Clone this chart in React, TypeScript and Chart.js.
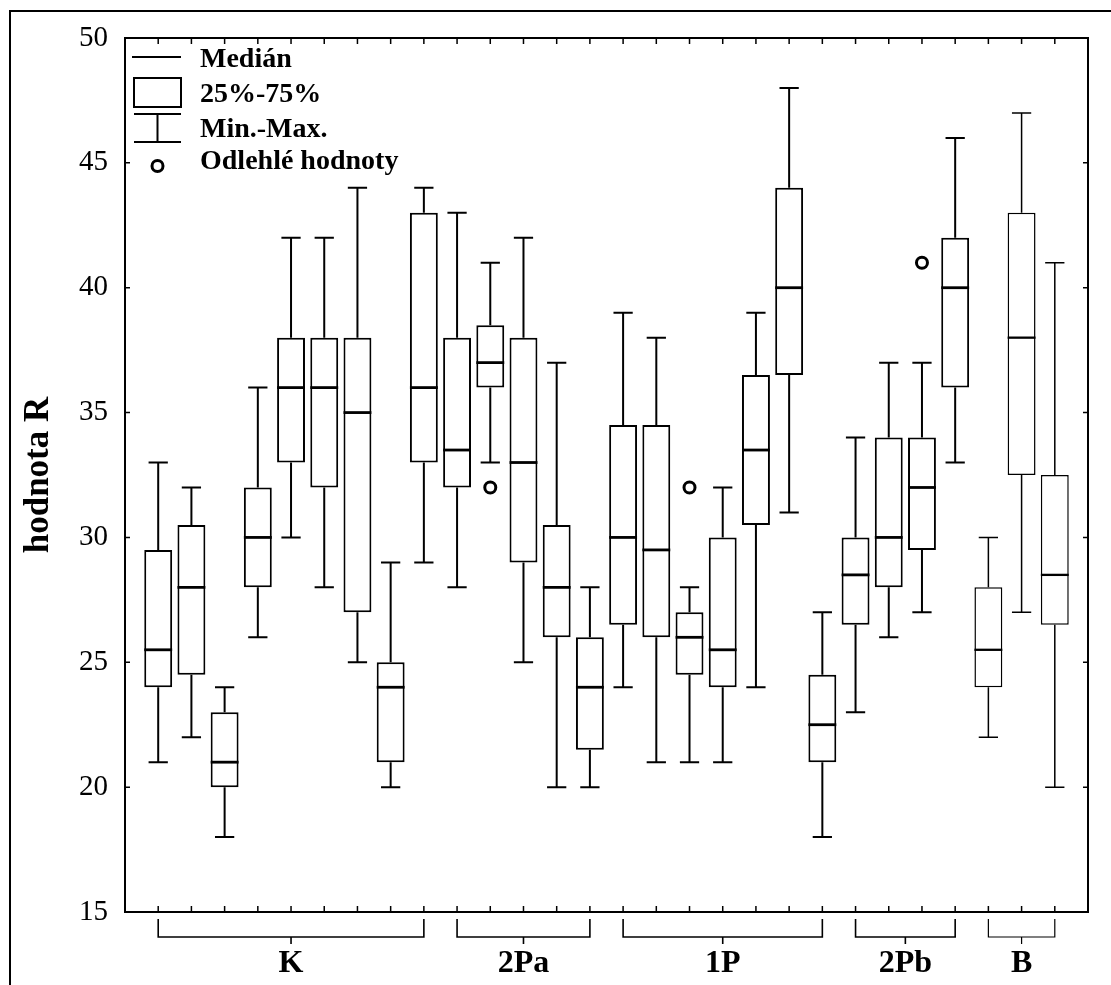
import React, { useEffect, useRef } from 'react';
import { Chart, registerables } from 'chart.js';

Chart.register(...registerables);

// Groups of samples along the x axis and how many boxes each holds
const groupNames = ['K', '2Pa', '1P', '2Pb', 'B'];
const groupSizes = [9, 5, 7, 4, 3];

// Box statistics, one entry per box, left to right
const boxMin = [21, 22, 18, 26, 30, 28, 25, 20, 29, 28, 33, 25, 20, 20, 24, 21, 21, 21, 24, 31, 18, 23, 26, 27, 33, 22, 27, 20];
const boxQ1 = [24, 24.5, 20, 28, 33, 32, 27, 21, 33, 32, 36, 29, 26, 21.5, 26.5, 26, 24.5, 24, 30.5, 36.5, 21, 26.5, 28, 29.5, 36, 24, 32.5, 26.5];
const boxMedian = [25.5, 28, 21, 30, 36, 36, 35, 24, 36, 33.5, 37, 33, 28, 24, 30, 29.5, 26, 25.5, 33.5, 40, 22.5, 28.5, 30, 32, 40, 25.5, 38, 28.5];
const boxQ3 = [29.5, 30.5, 23, 32, 38, 38, 38, 25, 43, 38, 38.5, 38, 30.5, 26, 34.5, 34.5, 27, 30, 36.5, 44, 24.5, 30, 34, 34, 42, 28, 43, 32.5];
const boxMax = [33, 32, 24, 36, 42, 42, 44, 29, 44, 43, 41, 42, 37, 28, 39, 38, 28, 32, 39, 48, 27, 34, 37, 37, 46, 30, 47, 41];

// Outliers: box number (1-based) and value
const outlierBox = [11, 17, 24];
const outlierValue = [32, 32, 41];

// Value axis
const yMin = 15;
const yMax = 50;
const yStep = 5;

// Legend entries
const legendLabels = ['Medián', '25%-75%', 'Min.-Max.', 'Odlehlé hodnoty'];
const yTitle = 'hodnota R';

const SERIF = "'Liberation Serif', 'Times New Roman', serif";

const boxCount = boxMin.length;
const positions = boxMin.map((_, i) => i + 1);
const boxGroup: number[] = [];
groupSizes.forEach((n, g) => {
  for (let k = 0; k < n; k++) boxGroup.push(g);
});
const lineWidths = boxGroup.map((g) => (g === groupNames.length - 1 ? 1.5 : 2));

const boxPlugin = {
  id: 'boxPlotParts',
  afterDatasetsDraw(chart: any) {
    const { ctx } = chart;
    const xs = chart.scales.x;
    const ys = chart.scales.y;
    const step = xs.getPixelForValue(1) - xs.getPixelForValue(0);
    const capHalf = step * 0.29;
    const boxHalf = step * 0.42;
    ctx.save();
    ctx.strokeStyle = '#000';
    ctx.lineCap = 'butt';
    for (let i = 0; i < boxCount; i++) {
      const cx = xs.getPixelForValue(positions[i]);
      const yMaxP = ys.getPixelForValue(boxMax[i]);
      const yMinP = ys.getPixelForValue(boxMin[i]);
      const yQ1 = ys.getPixelForValue(boxQ1[i]);
      const yQ3 = ys.getPixelForValue(boxQ3[i]);
      const yMed = ys.getPixelForValue(boxMedian[i]);
      ctx.lineWidth = lineWidths[i];
      ctx.beginPath();
      ctx.moveTo(cx, yQ3);
      ctx.lineTo(cx, yMaxP);
      ctx.moveTo(cx - capHalf, yMaxP);
      ctx.lineTo(cx + capHalf, yMaxP);
      ctx.moveTo(cx, yQ1);
      ctx.lineTo(cx, yMinP);
      ctx.moveTo(cx - capHalf, yMinP);
      ctx.lineTo(cx + capHalf, yMinP);
      ctx.stroke();
      ctx.lineWidth = lineWidths[i] + 0.8;
      ctx.beginPath();
      ctx.moveTo(cx - boxHalf, yMed);
      ctx.lineTo(cx + boxHalf, yMed);
      ctx.stroke();
    }
    ctx.restore();
  },
  afterDraw(chart: any) {
    const { ctx, chartArea } = chart;
    const xs = chart.scales.x;
    const ys = chart.scales.y;
    const { left, right, top, bottom } = chartArea;
    ctx.save();
    ctx.strokeStyle = '#000';
    ctx.fillStyle = '#000';

    // outer frame
    ctx.lineWidth = 2;
    ctx.beginPath();
    ctx.moveTo(10, chart.height);
    ctx.lineTo(10, 11);
    ctx.lineTo(chart.width, 11);
    ctx.stroke();

    // plot frame
    ctx.lineWidth = 2;
    ctx.strokeRect(left, top, right - left, bottom - top);

    // inward ticks
    ctx.lineWidth = 1.5;
    ctx.beginPath();
    for (let i = 0; i < boxCount; i++) {
      const px = xs.getPixelForValue(positions[i]);
      ctx.moveTo(px, bottom);
      ctx.lineTo(px, bottom - 6);
      ctx.moveTo(px, top);
      ctx.lineTo(px, top + 6);
    }
    for (let v = yMin; v <= yMax; v += yStep) {
      const py = ys.getPixelForValue(v);
      ctx.moveTo(left, py);
      ctx.lineTo(left + 5, py);
      ctx.moveTo(right, py);
      ctx.lineTo(right - 5, py);
    }
    ctx.stroke();

    // group brackets and names
    let start = 0;
    groupSizes.forEach((n, g) => {
      const x0 = xs.getPixelForValue(positions[start]);
      const x1 = xs.getPixelForValue(positions[start + n - 1]);
      const mid = (x0 + x1) / 2;
      const by = bottom + 25;
      ctx.lineWidth = g === groupNames.length - 1 ? 1.2 : 1.6;
      ctx.beginPath();
      ctx.moveTo(x0, bottom + 7);
      ctx.lineTo(x0, by);
      ctx.lineTo(x1, by);
      ctx.lineTo(x1, bottom + 7);
      ctx.moveTo(mid, by);
      ctx.lineTo(mid, by + 7);
      ctx.stroke();
      ctx.font = `bold 32px ${SERIF}`;
      ctx.textAlign = 'center';
      ctx.textBaseline = 'alphabetic';
      ctx.fillText(groupNames[g], mid, bottom + 60);
      start += n;
    });

    // legend
    const lx0 = left + 9;
    const lx1 = left + 56;
    const lc = (lx0 + lx1) / 2;
    ctx.lineWidth = 2;
    ctx.beginPath();
    ctx.moveTo(lx0 - 2, top + 19);
    ctx.lineTo(lx1, top + 19);
    ctx.stroke();
    ctx.strokeRect(lx0, top + 40, lx1 - lx0, 29);
    ctx.beginPath();
    ctx.moveTo(lx0, top + 76);
    ctx.lineTo(lx1, top + 76);
    ctx.moveTo(lc, top + 76);
    ctx.lineTo(lc, top + 104);
    ctx.moveTo(lx0, top + 104);
    ctx.lineTo(lx1, top + 104);
    ctx.stroke();
    ctx.lineWidth = 3;
    ctx.beginPath();
    ctx.arc(lc, top + 128, 5.5, 0, Math.PI * 2);
    ctx.stroke();

    ctx.font = `bold 28px ${SERIF}`;
    ctx.textAlign = 'left';
    ctx.textBaseline = 'alphabetic';
    const tx = left + 75;
    const baselines = [29, 64, 99, 131];
    legendLabels.forEach((t, k) => ctx.fillText(t, tx, top + baselines[k]));
    ctx.restore();
  },
};

export default function App() {
  const canvasRef = useRef<HTMLCanvasElement | null>(null);

  useEffect(() => {
    const canvas = canvasRef.current;
    if (!canvas) return;
    const chart = new Chart(canvas, {
      type: 'bar',
      data: {
        datasets: [
          {
            type: 'scatter',
            label: 'outliers',
            data: outlierBox.map((b, k) => ({ x: b, y: outlierValue[k] })),
            pointStyle: 'circle',
            pointRadius: 5.5,
            pointBorderWidth: 3,
            pointBorderColor: '#000',
            pointBackgroundColor: '#fff',
            order: 0,
          } as any,
          {
            type: 'bar',
            label: 'boxes',
            data: positions.map((p, i) => ({ x: p, y: [boxQ1[i], boxQ3[i]] })) as any,
            backgroundColor: '#fff',
            borderColor: '#000',
            borderWidth: lineWidths,
            borderSkipped: false,
            categoryPercentage: 1,
            barPercentage: 0.84,
            order: 1,
          } as any,
        ],
      },
      options: {
        responsive: false,
        animation: false,
        devicePixelRatio: 1,
        layout: { padding: { left: 0, top: 38, right: 23, bottom: 0 } },
        plugins: {
          legend: { display: false },
          tooltip: { enabled: false },
        },
        scales: {
          x: {
            type: 'linear',
            min: 0,
            max: boxCount + 1,
            offset: false,
            grid: { display: false, drawTicks: false, offset: false },
            border: { display: false },
            ticks: { display: false },
            afterFit: (s: any) => {
              s.height = 73;
            },
          },
          y: {
            type: 'linear',
            min: yMin,
            max: yMax,
            grid: { display: false, drawTicks: false },
            border: { display: false },
            ticks: {
              stepSize: yStep,
              padding: 17,
              color: '#000',
              font: { family: SERIF, size: 29 },
            },
            title: {
              display: true,
              text: yTitle,
              color: '#000',
              font: { family: SERIF, size: 35, weight: 'bold' },
              padding: { top: 18, bottom: 0 },
            },
            afterFit: (s: any) => {
              s.width = 125;
            },
          },
        },
      } as any,
      plugins: [boxPlugin],
    });
    return () => chart.destroy();
  }, []);

  return (
    <div style={{ position: 'absolute', left: 0, top: 0, width: 1111, height: 985, background: '#fff' }}>
      <canvas ref={canvasRef} width={1111} height={985} style={{ display: 'block' }} />
    </div>
  );
}
